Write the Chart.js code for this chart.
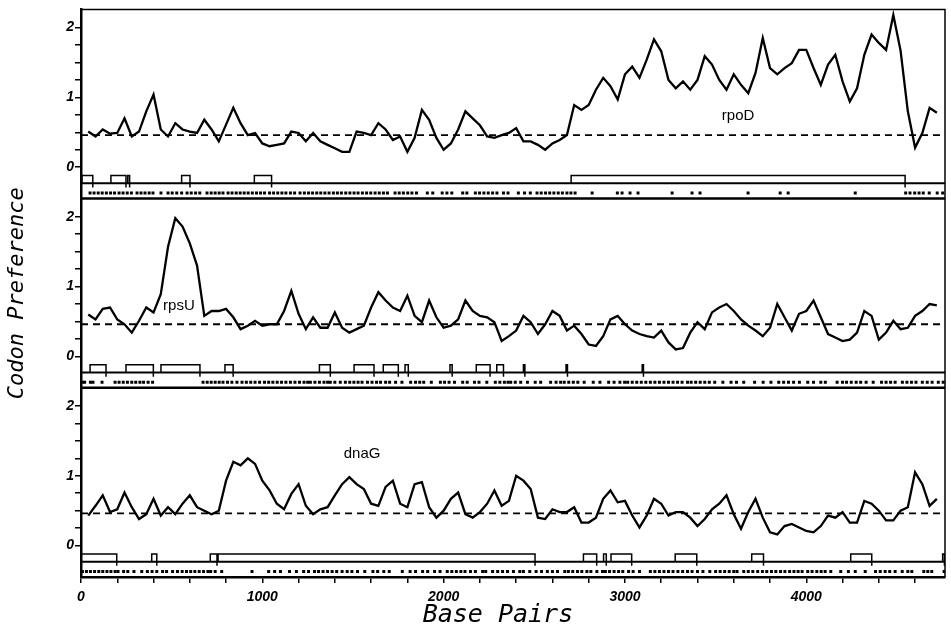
<!DOCTYPE html>
<html>
<head>
<meta charset="utf-8">
<script src="https://cdn.jsdelivr.net/npm/chart.js@4"></script>
<style>
  html, body { margin: 0; padding: 0; background: #fff; }
</style>
</head>
<body>
<canvas id="codonChart" width="951" height="626"></canvas>
<script>
// sliding-window sample positions (bp)
const basePairs = [40, 80, 120, 160, 200, 240, 280, 320, 360, 400,
  440, 480, 520, 560, 600, 640, 680, 720, 760, 800,
  840, 880, 920, 960, 1000, 1040, 1080, 1120, 1160, 1200,
  1240, 1280, 1320, 1360, 1400, 1440, 1480, 1520, 1560, 1600,
  1640, 1680, 1720, 1760, 1800, 1840, 1880, 1920, 1960, 2000,
  2040, 2080, 2120, 2160, 2200, 2240, 2280, 2320, 2360, 2400,
  2440, 2480, 2520, 2560, 2600, 2640, 2680, 2720, 2760, 2800,
  2840, 2880, 2920, 2960, 3000, 3040, 3080, 3120, 3160, 3200,
  3240, 3280, 3320, 3360, 3400, 3440, 3480, 3520, 3560, 3600,
  3640, 3680, 3720, 3760, 3800, 3840, 3880, 3920, 3960, 4000,
  4040, 4080, 4120, 4160, 4200, 4240, 4280, 4320, 4360, 4400,
  4440, 4480, 4520, 4560, 4600, 4640, 4680, 4720];

const rpoDPref = [0.51, 0.44, 0.54, 0.48, 0.49, 0.70, 0.44, 0.51, 0.80, 1.04,
  0.54, 0.44, 0.63, 0.54, 0.51, 0.49, 0.68, 0.54, 0.37, 0.61,
  0.85, 0.63, 0.46, 0.49, 0.34, 0.30, 0.32, 0.34, 0.51, 0.49,
  0.37, 0.49, 0.37, 0.32, 0.27, 0.22, 0.22, 0.51, 0.49, 0.46,
  0.63, 0.54, 0.39, 0.44, 0.22, 0.42, 0.82, 0.68, 0.42, 0.25,
  0.34, 0.54, 0.80, 0.70, 0.60, 0.44, 0.42, 0.46, 0.49, 0.56,
  0.37, 0.37, 0.32, 0.25, 0.34, 0.39, 0.46, 0.89, 0.82, 0.89,
  1.11, 1.28, 1.16, 0.97, 1.33, 1.44, 1.28, 1.54, 1.83, 1.66,
  1.25, 1.13, 1.23, 1.11, 1.25, 1.59, 1.47, 1.25, 1.11, 1.33,
  1.18, 1.06, 1.35, 1.85, 1.42, 1.33, 1.42, 1.49, 1.68, 1.68,
  1.42, 1.18, 1.47, 1.61, 1.23, 0.94, 1.13, 1.61, 1.90, 1.78,
  1.68, 2.18, 1.67, 0.80, 0.28, 0.49, 0.85, 0.78];

const rpsUPref = [0.60, 0.53, 0.68, 0.70, 0.53, 0.46, 0.34, 0.51, 0.70, 0.63,
  0.89, 1.57, 1.98, 1.86, 1.62, 1.30, 0.58, 0.65, 0.65, 0.68,
  0.56, 0.39, 0.44, 0.51, 0.44, 0.46, 0.46, 0.65, 0.94, 0.61,
  0.39, 0.56, 0.41, 0.41, 0.63, 0.41, 0.34, 0.39, 0.44, 0.70,
  0.92, 0.80, 0.70, 0.65, 0.87, 0.58, 0.49, 0.80, 0.56, 0.41,
  0.44, 0.53, 0.80, 0.65, 0.58, 0.56, 0.49, 0.22, 0.29, 0.37,
  0.58, 0.49, 0.32, 0.46, 0.65, 0.58, 0.37, 0.44, 0.32, 0.17,
  0.15, 0.29, 0.53, 0.58, 0.46, 0.37, 0.32, 0.29, 0.27, 0.37,
  0.20, 0.10, 0.12, 0.34, 0.49, 0.39, 0.63, 0.70, 0.75, 0.65,
  0.53, 0.44, 0.37, 0.29, 0.41, 0.75, 0.56, 0.37, 0.61, 0.65,
  0.80, 0.56, 0.32, 0.27, 0.22, 0.24, 0.34, 0.65, 0.58, 0.24,
  0.34, 0.51, 0.39, 0.41, 0.58, 0.65, 0.75, 0.73];

const dnaGPref = [0.43, 0.57, 0.72, 0.48, 0.52, 0.76, 0.55, 0.38, 0.45, 0.67,
  0.43, 0.55, 0.45, 0.60, 0.72, 0.55, 0.50, 0.45, 0.50, 0.93,
  1.20, 1.15, 1.25, 1.17, 0.93, 0.79, 0.60, 0.52, 0.74, 0.88,
  0.57, 0.45, 0.52, 0.55, 0.72, 0.88, 0.98, 0.88, 0.81, 0.60,
  0.57, 0.84, 0.93, 0.60, 0.55, 0.88, 0.91, 0.55, 0.40, 0.50,
  0.67, 0.76, 0.45, 0.40, 0.48, 0.60, 0.79, 0.57, 0.64, 1.00,
  0.93, 0.81, 0.40, 0.38, 0.52, 0.48, 0.48, 0.55, 0.33, 0.33,
  0.40, 0.67, 0.79, 0.62, 0.64, 0.43, 0.26, 0.43, 0.67, 0.60,
  0.43, 0.48, 0.48, 0.40, 0.28, 0.38, 0.52, 0.60, 0.72, 0.45,
  0.24, 0.48, 0.67, 0.40, 0.19, 0.16, 0.28, 0.31, 0.26, 0.21,
  0.19, 0.28, 0.43, 0.40, 0.48, 0.33, 0.33, 0.64, 0.60, 0.50,
  0.36, 0.36, 0.50, 0.55, 1.05, 0.88, 0.57, 0.67];

// open reading frames [start, stop] in bp
const rpoDOrfs = [[5, 65], [165, 248], [258, 268], [555, 601], [956, 1051], [2703, 4545]];
const rpsUOrfs = [[50, 138], [248, 399], [441, 656], [794, 839], [1315, 1375], [1506, 1616],
  [1667, 1750], [1787, 1805], [2035, 2047], [2180, 2256], [2293, 2330], [2440, 2448],
  [2675, 2683], [3095, 3102]];
const dnaGOrfs = [[0, 197], [390, 418], [713, 750], [756, 2504], [2771, 2844], [2882, 2897],
  [2923, 3037], [3277, 3396], [3699, 3764], [4245, 4361], [4752, 4762]];

// stop codon marks (bp)
const rpoDStops = [50, 72, 95, 117, 140, 163, 185, 210, 232, 255, 278, 309, 331, 353, 376, 397,
  441, 480, 503, 528, 555, 585, 608, 632, 655, 695, 718, 740, 762, 783, 811, 833, 856, 878, 900,
  922, 945, 968, 990, 1012, 1040, 1062, 1085, 1108, 1130, 1155, 1178, 1208, 1232, 1255, 1277,
  1300, 1322, 1345, 1368, 1392, 1414, 1436, 1460, 1483, 1506, 1528, 1552, 1575, 1598, 1622,
  1645, 1668, 1690, 1732, 1755, 1778, 1802, 1825, 1850, 1910, 1940, 1992, 2018, 2045, 2105,
  2128, 2175, 2198, 2222, 2246, 2270, 2294, 2330, 2355, 2412, 2446, 2478, 2515, 2538, 2562,
  2585, 2608, 2632, 2655, 2680, 2702, 2725, 2819, 2958, 2984, 3028, 3072, 3260, 3370, 3414,
  3679, 3856, 3900, 4270, 4548, 4572, 4598, 4622, 4645, 4678, 4722, 4752];
const rpsUStops = [8, 20, 52, 66, 116, 188, 210, 233, 256, 280, 302, 325, 345, 370, 395, 673,
  696, 718, 740, 762, 783, 808, 832, 860, 888, 912, 936, 960, 985, 1012, 1035, 1058, 1082,
  1106, 1130, 1155, 1180, 1205, 1230, 1250, 1265, 1290, 1315, 1340, 1360, 1375, 1400, 1430,
  1458, 1482, 1505, 1528, 1550, 1580, 1605, 1630, 1652, 1680, 1702, 1735, 1770, 1818, 1845,
  1868, 1890, 1932, 1982, 2005, 2030, 2060, 2105, 2130, 2170, 2195, 2238, 2285, 2310, 2335,
  2355, 2370, 2395, 2425, 2462, 2505, 2535, 2590, 2620, 2645, 2665, 2690, 2715, 2740, 2775,
  2825, 2862, 2910, 2940, 2972, 2998, 3015, 3040, 3065, 3090, 3115, 3140, 3165, 3190, 3215,
  3240, 3265, 3290, 3315, 3345, 3365, 3390, 3415, 3440, 3465, 3495, 3540, 3585, 3615, 3655,
  3715, 3762, 3805, 3848, 3875, 3902, 3930, 3962, 4008, 4040, 4080, 4105, 4170, 4200, 4222,
  4248, 4275, 4300, 4330, 4369, 4415, 4440, 4465, 4490, 4530, 4555, 4580, 4605, 4640, 4667,
  4694, 4728, 4755];
const dnaGStops = [8, 30, 52, 75, 98, 120, 143, 165, 188, 204, 235, 258, 292, 335, 366, 392,
  418, 450, 472, 505, 532, 558, 582, 605, 628, 652, 676, 700, 715, 740, 776, 943, 1035, 1068,
  1100, 1150, 1188, 1228, 1255, 1288, 1310, 1335, 1360, 1385, 1410, 1440, 1468, 1494, 1525,
  1565, 1610, 1636, 1670, 1700, 1772, 1815, 1845, 1884, 1912, 1950, 1980, 2020, 2045, 2070,
  2095, 2118, 2148, 2175, 2215, 2232, 2270, 2298, 2325, 2352, 2385, 2420, 2440, 2475, 2510,
  2540, 2572, 2600, 2628, 2668, 2688, 2712, 2738, 2762, 2790, 2812, 2845, 2876, 2892, 2915,
  2940, 2965, 2988, 3020, 3045, 3080, 3140, 3165, 3190, 3215, 3240, 3265, 3292, 3318, 3345,
  3370, 3400, 3430, 3468, 3500, 3525, 3550, 3575, 3600, 3618, 3655, 3680, 3705, 3732, 3758,
  3782, 3808, 3832, 3858, 3882, 3908, 3932, 3955, 3977, 4008, 4032, 4058, 4082, 4104, 4135,
  4190, 4232, 4270, 4325, 4382, 4408, 4435, 4460, 4490, 4529, 4560, 4582, 4648, 4670, 4692,
  4760];

const geneNames = ['rpoD', 'rpsU', 'dnaG'];
const geneLabelBp = [3624, 540, 1550];
const geneLabelPref = [0.73, 0.72, 1.32];

const prefTicks = [0, 0.25, 0.5, 0.75, 1, 1.25, 1.5, 1.75, 2];
const bpTicks = [0, 200, 400, 600, 800, 1000, 1200, 1400, 1600, 1800, 2000, 2200, 2400,
  2600, 2800, 3000, 3200, 3400, 3600, 3800, 4000, 4200, 4400, 4600];
const bpMax = 4765;
const randomPref = 0.46;   // dashed reference level

// each panel covers the same preference range; stacked top to bottom
const panelFloor = -0.45;
const panelSpan = 2.71;
const panelOffsets = [2 * panelSpan, panelSpan, 0];
const orfTop = -0.12, orfBase = -0.23, orfStopEnd = -0.29, stopRow = -0.37;

const panels = [
  { pref: rpoDPref, orfs: rpoDOrfs, stops: rpoDStops },
  { pref: rpsUPref, orfs: rpsUOrfs, stops: rpsUStops },
  { pref: dnaGPref, orfs: dnaGOrfs, stops: dnaGStops }
];

const datasets = [];
panels.forEach((p, i) => {
  const o = panelOffsets[i];
  datasets.push({
    data: basePairs.map((bp, k) => ({ x: bp, y: p.pref[k] + o })),
    borderColor: '#000', borderWidth: 2.3, pointRadius: 0, tension: 0
  });
  datasets.push({
    data: [{ x: 0, y: randomPref + o }, { x: bpMax, y: randomPref + o }],
    borderColor: '#000', borderWidth: 1.8, borderDash: [7, 5], pointRadius: 0
  });
  datasets.push({
    data: [{ x: 0, y: orfBase + o }, { x: bpMax, y: orfBase + o }],
    borderColor: '#000', borderWidth: 2, pointRadius: 0
  });
  const orfPts = [];
  p.orfs.forEach(([s, e]) => {
    orfPts.push({ x: s, y: orfBase + o }, { x: s, y: orfTop + o }, { x: e, y: orfTop + o },
      { x: e, y: orfStopEnd + o }, { x: e, y: null });
  });
  datasets.push({
    data: orfPts, borderColor: '#000', borderWidth: 1.5, pointRadius: 0, spanGaps: false
  });
  datasets.push({
    data: p.stops.map(bp => ({ x: bp, y: stopRow + o })),
    showLine: false, pointStyle: 'rect', pointRadius: 2.1,
    backgroundColor: '#000', borderColor: '#000', borderWidth: 0
  });
});

function panelOf(v) {
  return Math.min(2, Math.floor((v - panelFloor) / panelSpan));
}

const framePlugin = {
  id: 'frame',
  afterDatasetsDraw(chart) {
    const { ctx, chartArea: a, scales: { x, y } } = chart;
    ctx.save();
    ctx.strokeStyle = '#000';
    ctx.lineWidth = 1.5;
    ctx.beginPath();
    ctx.moveTo(a.left, a.top);
    ctx.lineTo(a.right, a.top);
    ctx.lineTo(a.right, a.bottom);
    ctx.stroke();
    ctx.lineWidth = 2.5;
    [panelSpan, 0].forEach(o => {
      const py = y.getPixelForValue(o + panelFloor + panelSpan);
      ctx.beginPath();
      ctx.moveTo(a.left, py);
      ctx.lineTo(a.right, py);
      ctx.stroke();
    });
    ctx.fillStyle = '#000';
    ctx.font = '15px "Liberation Sans", Arial, sans-serif';
    ctx.textAlign = 'center';
    ctx.textBaseline = 'middle';
    geneNames.forEach((g, i) => {
      ctx.fillText(g, x.getPixelForValue(geneLabelBp[i]),
        y.getPixelForValue(geneLabelPref[i] + panelOffsets[i]));
    });
    ctx.restore();
  }
};

const tickFont = { family: 'Liberation Sans', size: 14, style: 'italic', weight: 'bold' };

new Chart(document.getElementById('codonChart'), {
  type: 'line',
  data: { datasets },
  plugins: [framePlugin],
  options: {
    responsive: false,
    animation: false,
    layout: { padding: { top: 8, right: 6, left: 0, bottom: 0 } },
    plugins: { legend: { display: false }, tooltip: { enabled: false } },
    scales: {
      x: {
        type: 'linear', min: 0, max: bpMax,
        afterBuildTicks: s => { s.ticks = bpTicks.map(v => ({ value: v })); },
        afterFit: s => { s.height = 49; },
        ticks: {
          autoSkip: false, maxRotation: 0, color: '#000', font: tickFont, padding: 6,
          callback: v => (v % 1000 === 0 ? String(v) : '')
        },
        grid: { drawOnChartArea: false, drawTicks: true, tickLength: 6, color: '#000', lineWidth: 1.5 },
        border: { color: '#000', width: 2.5 },
        title: {
          display: true, text: 'Base Pairs  ', color: '#000',
          font: { family: 'DejaVu Sans Mono', size: 25, style: 'italic', lineHeight: 0.85 },
          padding: { top: 0, bottom: 0 }
        }
      },
      y: {
        type: 'linear', min: panelFloor, max: panelFloor + 3 * panelSpan,
        afterBuildTicks: s => {
          s.ticks = panelOffsets.flatMap(o => prefTicks.map(v => ({ value: o + v })));
        },
        afterFit: s => { s.width = 81; },
        ticks: {
          autoSkip: false, color: '#000', font: tickFont, padding: 1,
          callback: v => {
            const local = v - panelOffsets[2 - panelOf(v)];
            const r = Math.round(local);
            return Math.abs(local - r) < 1e-6 ? String(r) : '';
          }
        },
        grid: { drawOnChartArea: false, drawTicks: true, tickLength: 6, color: '#000', lineWidth: 1.5 },
        border: { color: '#000', width: 2.5 },
        title: {
          display: true, text: 'Codon Preference', color: '#000',
          font: { family: 'DejaVu Sans Mono', size: 22, style: 'italic' },
          padding: { top: 4, bottom: 0 }
        }
      }
    }
  }
});
</script>
</body>
</html>
